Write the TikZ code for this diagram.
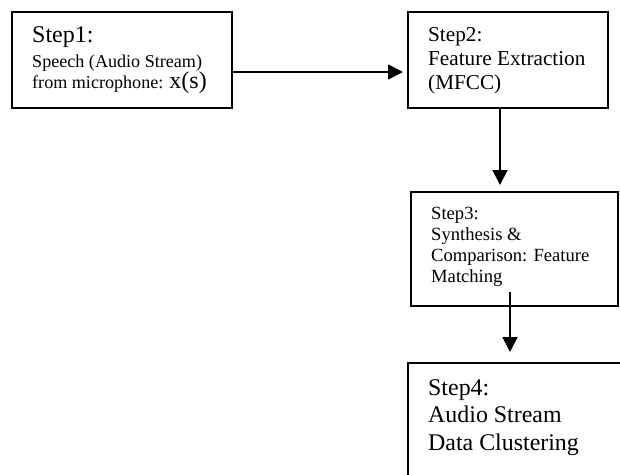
\documentclass[tikz,border=0pt]{standalone}
\usepackage{fontspec}
\setmainfont{Liberation Serif}
\usetikzlibrary{arrows.meta}
\usetikzlibrary{calc}

\tikzset{
    stepbox/.style={draw, line width=1.8pt, inner sep=0pt, outer sep=0pt, anchor=north west},
    steptext/.style={anchor=north west, inner sep=0pt, align=left},
    flow/.style={line width=1.8pt, -{Triangle[length=15pt,width=15pt]}}
}

\begin{document}
\begin{tikzpicture}[x=1pt,y=-1pt]
        \path[use as bounding box, clip] (0,0) rectangle (620,474);
        % boxes
        \node[stepbox, minimum width=220pt, minimum height=96pt] (b1) at (12,12) {};
        \node[stepbox, minimum width=200pt, minimum height=96pt] (b2) at (408,12) {};
        \node[stepbox, minimum width=207pt, minimum height=114pt] (b3) at (411,192) {};
        \node[stepbox, minimum width=240pt, minimum height=150pt] (b4) at (408,363) {};
        % texts
        \node[steptext, font=\fontsize{18.1}{21}\selectfont] (t1) at ($(b1.north west)+(20,14.5)$)
        {{\fontsize{24}{25}\selectfont Step1:}\\[4pt]
         Speech (Audio Stream)\\
         from microphone: {\fontsize{24}{21}\selectfont x(s)}};
        \node[steptext, font=\fontsize{21.2}{24}\selectfont] (t2) at ($(b2.north west)+(20,15)$)
        {Step2:\\ Feature Extraction\\ (MFCC)};
        \node[steptext, font=\fontsize{18.6}{21}\selectfont] (t3) at ($(b3.north west)+(20,15)$)
        {Step3:\\ Synthesis \&\\ Comparison: Feature\\ Matching};
        \node[steptext, font=\fontsize{23.9}{27.5}\selectfont] (t4) at ($(b4.north west)+(20,16)$)
        {Step4:\\ Audio Stream\\ Data Clustering};
        % ~~~~~~~~~~~~~~~~~
        \draw[flow, shorten >=5pt] ($(b1.east)+(0,12)$) -- ($(b2.west)+(0,12)$);
        \coordinate (m2) at ($(b2.south)+(-8,0)$);
        \draw[flow, shorten >=7pt] (m2) -- (m2 |- b3.north);
        \coordinate (m3) at ($(b3.south)+(-4.5,-14)$);
        \draw[flow, shorten >=11pt] (m3) -- (m3 |- b4.north);
    \end{tikzpicture}
\end{document}
